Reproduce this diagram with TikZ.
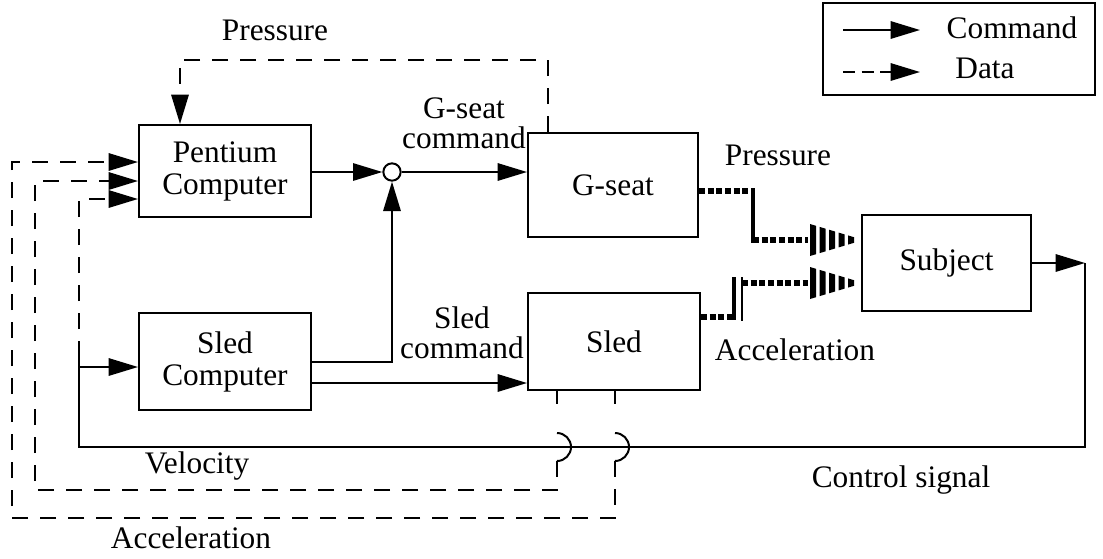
\documentclass[tikz,border=0pt]{standalone}
\usepackage{fontspec}
\setmainfont{Liberation Serif}
\usetikzlibrary{arrows.meta}
\begin{document}
\begin{tikzpicture}[x=0.75pt,y=-0.75pt,
  font=\fontsize{23.5}{24}\selectfont,
  box/.style={draw,line width=1.5pt,inner sep=0pt,align=center},
  tip/.style={-{Triangle[length=22pt,width=13pt]}},
  solidln/.style={line width=1.5pt},
  cmd/.style={solidln,tip},
  dat/.style={line width=1.5pt,dash pattern=on 12pt off 9pt},
  datarr/.style={dat,tip},
  stim/.style={line width=5pt,dash pattern=on 4.5pt off 2pt},
  lbl/.style={inner sep=0pt,align=center}
]
\useasboundingbox (0,0) rectangle (1103,558);

% blocks
\node[box,minimum width=129pt,minimum height=69pt] (pc) at (225,171) {Pentium\\Computer};
\node[box,minimum width=129pt,minimum height=72.75pt] (sc) at (225,361.5) {Sled\\Computer};
\node[box,minimum width=127.5pt,minimum height=78pt] (gs) at (613,185) {G-seat};
\node[box,minimum width=129pt,minimum height=72.75pt] (sl) at (614,341.5) {Sled};
\node[box,minimum width=126.75pt,minimum height=72pt] (sub) at (946.5,263) {Subject};
\node[draw,line width=1.5pt,circle,minimum size=13pt,inner sep=0pt] (sum) at (392,172) {};

% legend
\node[box,minimum width=204pt,minimum height=69pt] (leg) at (959,49) {};
\coordinate (la1) at (843,30);
\coordinate (la2) at (920,30);
\coordinate (lb1) at (843,72);
\coordinate (lb2) at (920,72);
\draw[cmd] (la1) -- (la2);
\draw[line width=1.5pt,dash pattern=on 9pt off 5pt,tip] (lb1) -- (lb2);
\node[lbl] (lcmd) at (1012,28) {Command};
\node[lbl] (ldat) at (985,68) {Data};

% command paths
\draw[cmd] (pc.east |- sum.west) -- (sum.west);
\draw[cmd] (sum.east) -- (gs.west |- sum.east);
\draw[cmd] (sc.east) -| (sum.south);
\coordinate (s2) at (311,383);
\draw[cmd] (s2) -- (sl.west |- s2);

% control signal
\coordinate (cs1) at (1085,263);
\coordinate (cs2) at (1085,447);
\coordinate (cs3) at (79,447);
\coordinate (cs4) at (79,357);
\coordinate (cs5) at (79,367);
\draw[cmd] (sub.east) -- (cs1);
\draw[solidln] (cs1) -- (cs2) -- (cs3) -- (cs4);
\draw[cmd] (cs5) -- (sc.west |- cs5);
\coordinate (d3) at (79,199);
\draw[datarr] (cs4) -- (d3) -- (pc.west |- d3);

% pressure feedback
\coordinate (p1) at (548,60);
\coordinate (p2) at (180,60);
\draw[datarr] (gs.north -| p1) -- (p1) -- (p2) -- (pc.north -| p2);

% velocity
\coordinate (v0) at (557,433);
\coordinate (v1) at (557,461);
\coordinate (v2) at (557,490);
\coordinate (v3) at (35,490);
\coordinate (v4) at (35,181);
\draw[line width=1.5pt,dash pattern=on 10pt off 30pt] (sl.south -| v0) -- (v0);
\draw[solidln] (v0) arc[start angle=-90,end angle=90,radius=14];
\draw[datarr] (v1) -- (v2) -- (v3) -- (v4) -- (pc.west |- v4);

% acceleration
\coordinate (a0) at (615,433);
\coordinate (a1) at (615,461);
\coordinate (a2) at (615,518);
\coordinate (a3) at (12,518);
\coordinate (a4) at (12,162);
\draw[line width=1.5pt,dash pattern=on 10pt off 30pt] (sl.south -| a0) -- (a0);
\draw[solidln] (a0) arc[start angle=-90,end angle=90,radius=14];
\draw[datarr] (a1) -- (a2) -- (a3) -- (a4) -- (pc.west |- a4);

% stimulus paths
\coordinate (g1) at (753,191);
\coordinate (g2) at (753,240);
\coordinate (g3) at (808,240);
\draw[stim] (gs.east |- g1) -- (g1);
\draw[line width=3pt] (753,188) -- (753,243);
\draw[stim] (g2) -- (g3);

\coordinate (k1) at (734,317);
\coordinate (k2) at (742,283);
\coordinate (k3) at (808,283);
\draw[stim] (sl.east |- k1) -- (k1);
\draw[line width=3pt] (734,277) -- (734,320);
\draw[line width=1pt] (742,277) -- (742,321);
\draw[stim] (k2) -- (k3);

\foreach \yy in {240,283} {
  \foreach \i in {0,...,4} {
    \pgfmathsetmacro\xa{810+9.5*\i}
    \pgfmathsetmacro\xb{\xa+6}
    \pgfmathsetmacro\ha{16-(\xa-810)*0.3}
    \pgfmathsetmacro\hb{16-(\xb-810)*0.3}
    \fill (\xa,{\yy-\ha}) -- (\xb,{\yy-\hb}) -- (\xb,{\yy+\hb}) -- (\xa,{\yy+\ha}) -- cycle;
  }
}

% labels
\node[lbl] (tpres) at (275,30) {Pressure};
\node[lbl] (tgc) at (464,123) {G-seat\\[-1.5pt]command};
\node[lbl] (tpres2) at (778,155) {Pressure};
\node[lbl] (tsc) at (462,333) {Sled\\[-1.5pt]command};
\node[lbl] (tacc2) at (795,350) {Acceleration};
\node[lbl] (tvel) at (197,466) {Velocity};
\node[lbl] (tctl) at (901,480) {Control signal};
\node[lbl] (tacc) at (191,538) {Acceleration};
\end{tikzpicture}
\end{document}
